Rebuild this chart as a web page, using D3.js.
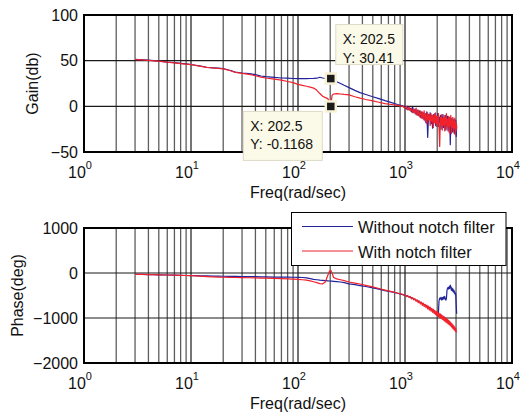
<!DOCTYPE html>
<html>
<head>
<meta charset="utf-8">
<script src="https://cdn.jsdelivr.net/npm/d3@7"></script>
<style>
  html, body { margin: 0; padding: 0; background: #fff; }
  svg { display: block; font-family: "Liberation Sans", Arial, sans-serif; }
</style>
</head>
<body>
<svg id="chart" width="521" height="413"></svg>
<script>
// Frequency grid (rad/sec), shared by every series
const freq = [
  3, 3.5, 4, 4.5, 5, 6, 7, 8, 9, 10, 11, 12, 14, 16, 18, 20, 23, 26, 30, 35,
  40, 45, 50, 60, 70, 80, 90, 100, 110, 120, 130, 140, 150, 160, 170, 180, 190, 197, 202.5, 208,
  215, 230, 250, 270, 300, 340, 380, 430, 500, 570, 650, 750, 850, 950,
  1000, 1030, 1060, 1090, 1120, 1150, 1180, 1210, 1240, 1270, 1300, 1330, 1360, 1390, 1420, 1450,
  1480, 1510, 1540, 1570, 1600, 1630, 1660, 1690, 1720, 1750, 1780, 1810, 1840, 1870, 1900, 1930,
  1960, 1990, 2020, 2050, 2080, 2110, 2140, 2170, 2200, 2230, 2260, 2290, 2320, 2350, 2380, 2410,
  2440, 2470, 2500, 2530, 2560, 2590, 2620, 2650, 2680, 2710, 2740, 2770, 2800, 2830, 2860, 2890,
  2920, 2950, 2980, 3010, 3040
];

// Gain (dB)
const gainWithout = [
  51.5, 51, 50.5, 50, 49.6, 48.5, 47.8, 47, 46.4, 45.8, 45, 44.2, 42.8, 42.2, 41.8, 41.3, 39.5, 37.5, 36.5, 35.8,
  34.8, 33.2, 32.5, 31.6, 31, 30.8, 30.5, 30.4, 30.3, 30.4, 30.5, 30.6, 30.8, 31.8, 31, 30.5, 30.6, 30.5, 30.41, 30,
  29, 27, 25, 23, 20.5, 17.5, 15, 13, 10.5, 8.5, 6.2, 4, 2, 0.5,
  -1, -3, 0, -4, -2, -6, -1, -7, -3, -9, -4, -10, -5, -12, -6, -13,
  -7, -15, -8, -18, -6, -34, -9, -14, -7, -19, -10, -24, -9, -17, -8, -21,
  -11, -16, -8, -22, -12, -18, -10, -25, -12, -19, -9, -23, -13, -20, -10, -26,
  -14, -21, -11, -27, -15, -22, -12, -42, -16, -24, -13, -28, -17, -23, -14, -30,
  -18, -26, -15, -33, -22
];
const gainWith = [
  51.2, 50.8, 50.3, 49.8, 49.4, 48.3, 47.6, 46.8, 46.2, 45.6, 44.8, 44, 42.6, 42, 41.6, 41, 39.2, 37.2, 36, 35,
  33.5, 32, 31, 29.8, 28.6, 27.2, 26, 24, 23, 22, 21, 20, 17.5, 14, 11, 9.5, 8.5, 4, -0.1168, 12,
  13.5, 14, 13.5, 13, 12.5, 10.5, 9, 7.5, 6, 4.5, 3, 2, 1, 0,
  -2, 0, -4, -1, -5, -2, -7, -3, -8, -2, -10, -4, -11, -5, -13, -6,
  -14, -5, -16, -8, -19, -7, -15, -9, -21, -8, -17, -10, -23, -9, -18, -7,
  -22, -11, -19, -8, -24, -44, -12, -20, -9, -26, -13, -21, -10, -27, -12, -20,
  -8, -25, -14, -22, -11, -29, -13, -21, -10, -30, -15, -23, -12, -28, -16, -24,
  -13, -31, -17, -27, -20
];

// Phase (deg)
const phaseWithout = [
  -30, -32, -35, -38, -40, -45, -48, -52, -55, -58, -60, -62, -65, -68, -70, -72, -74, -76, -78, -80,
  -82, -85, -88, -90, -92, -93, -94, -96, -100, -110, -125, -140, -150, -160, -165, -170, -175, -178, -180, -182,
  -185, -190, -200, -215, -240, -260, -280, -300, -330, -360, -390, -420, -450, -480,
  -498, -505, -515, -528, -540, -553, -565, -578, -590, -602, -612, -625, -638, -650, -662, -675,
  -690, -702, -712, -722, -735, -748, -758, -770, -782, -795, -808, -820, -835, -848, -860, -880,
  -900, -930, -950, -900, -620, -560, -580, -540, -600, -545, -590, -530, -570, -520, -585, -600,
  -560, -380, -340, -320, -360, -300, -340, -270, -300, -380, -330, -400, -350, -420, -380, -450,
  -420, -480, -460, -700, -906
];
const phaseWith = [
  -30, -32, -35, -38, -40, -45, -48, -52, -55, -58, -62, -68, -80, -88, -92, -95, -98, -100, -102, -105,
  -108, -112, -115, -120, -125, -130, -135, -140, -150, -160, -175, -195, -215, -235, -240, -200, -50, 40, 60, 0,
  -100, -130, -150, -170, -200, -225, -245, -275, -310, -345, -380, -415, -445, -475,
  -490, -525, -500, -545, -520, -575, -545, -600, -570, -630, -595, -660, -620, -690, -645, -720,
  -670, -745, -695, -770, -715, -800, -735, -825, -760, -850, -785, -875, -805, -900, -830, -925,
  -850, -950, -870, -970, -890, -990, -910, -1010, -930, -1030, -950, -1050, -970, -1070, -990, -1090,
  -1010, -1110, -1030, -1130, -1050, -1150, -1075, -1170, -1100, -1195, -1125, -1220, -1150, -1245, -1175, -1265,
  -1200, -1290, -1230, -1310, -1290
];

const seriesNames = ["Without notch filter", "With notch filter"];
const seriesColors = ["#23239a", "#f0222c"];
const gainTicks = [-50, 0, 50, 100];
const phaseTicks = [-2000, -1000, 0, 1000];
const decades = [0, 1, 2, 3, 4];
const tipFreq = 202.5;
const tipGains = [30.41, -0.1168];

const svg = d3.select("#chart");
const left = 84, right = 512;
const x = d3.scaleLog().domain([1, 1e4]).range([left, right]);
const yGain = d3.scaleLinear().domain([-50, 100]).range([152, 15]);
const yPhase = d3.scaleLinear().domain([-2000, 1000]).range([363, 228]);

function panel(y, ticks, ylabel, ylabelX, xlabelY, series) {
  const [y0, y1] = y.range();
  const g = svg.append("g");
  g.append("rect").attr("x", left).attr("y", y1).attr("width", right - left).attr("height", y0 - y1).attr("fill", "#fff");

  // log grid: minor and decade lines
  g.append("g").selectAll("line").data(x.ticks()).join("line")
    .attr("x1", d => x(d)).attr("x2", d => x(d)).attr("y1", y1).attr("y2", y0)
    .attr("stroke", d => Number.isInteger(Math.log10(d)) ? "#2a2a2a" : "#5e5e5e")
    .attr("stroke-width", 1.3);
  g.append("g").selectAll("line").data(ticks).join("line")
    .attr("x1", left).attr("x2", right).attr("y1", d => y(d)).attr("y2", d => y(d))
    .attr("stroke", "#1a1a1a").attr("stroke-width", 1.1);

  const line = d3.line().x((d, i) => x(freq[i])).y(d => y(d));
  series.forEach((vals, k) => {
    g.append("path").datum(vals).attr("d", line)
      .attr("fill", "none").attr("stroke", seriesColors[k]).attr("stroke-width", 1.2)
      .attr("stroke-linejoin", "round");
  });

  // frame
  g.append("rect").attr("x", left).attr("y", y1).attr("width", right - left).attr("height", y0 - y1)
    .attr("fill", "none").attr("stroke", "#000").attr("stroke-width", 2);

  // y tick labels
  const ya = d3.axisLeft(y).tickValues(ticks).tickSize(0).tickPadding(6).tickFormat(d3.format("d"));
  const yg = g.append("g").attr("transform", `translate(${left},0)`).call(ya);
  yg.select(".domain").remove();
  yg.selectAll("text").attr("font-size", 16).attr("fill", "#111").attr("font-family", "Liberation Sans, Arial, sans-serif");

  // x tick labels as powers of ten
  const xl = g.append("g").selectAll("text").data(decades).join("text")
    .attr("x", d => x(Math.pow(10, d)) - 4).attr("y", y0 + 26)
    .attr("text-anchor", "middle").attr("font-size", 16).attr("fill", "#111");
  xl.append("tspan").text("10");
  xl.append("tspan").attr("dy", -9).attr("font-size", 11).text(d => d);

  g.append("text").attr("x", (left + right) / 2).attr("y", xlabelY)
    .attr("text-anchor", "middle").attr("font-size", 16).attr("fill", "#111").text("Freq(rad/sec)");
  g.append("text").attr("transform", `translate(${ylabelX},${(y0 + y1) / 2}) rotate(-90)`)
    .attr("text-anchor", "middle").attr("font-size", 16).attr("fill", "#111").text(ylabel);
}

panel(yGain, gainTicks, "Gain(db)", 38, 198, [gainWithout, gainWith]);
panel(yPhase, phaseTicks, "Phase(deg)", 23, 409, [phaseWithout, phaseWith]);

// data tips
const tips = [
  { v: tipGains[0], dx: 5, dy: -54, w: 67, h: 40 },
  { v: tipGains[1], dx: -87.5, dy: 5, w: 79, h: 49 }
];
tips.forEach(t => {
  const mx = x(tipFreq), my = yGain(t.v);
  const bx = mx + t.dx, by = my + t.dy;
  const tg = svg.append("g");
  tg.append("rect").attr("x", bx).attr("y", by).attr("width", t.w).attr("height", t.h)
    .attr("fill", "#fbf9e7").attr("stroke", "#dedbc6").attr("stroke-width", 1);
  const tx = tg.append("text").attr("font-size", 14).attr("fill", "#111");
  tx.append("tspan").attr("x", bx + 7).attr("y", by + 19.5).text("X: " + tipFreq);
  tx.append("tspan").attr("x", bx + 7).attr("y", by + 38).text("Y: " + t.v);
});
tips.forEach(t => {
  const mx = x(tipFreq), my = yGain(t.v);
  svg.append("rect").attr("x", mx - 5).attr("y", my - 5).attr("width", 10).attr("height", 10)
    .attr("fill", "#1a1a1a").attr("stroke", "#f7f1d6").attr("stroke-width", 2.5);
});

// legend
const lg = svg.append("g");
lg.append("rect").attr("x", 291.5).attr("y", 212.5).attr("width", 214.5).attr("height", 53)
  .attr("fill", "#fff").attr("stroke", "#000").attr("stroke-width", 1);
seriesNames.forEach((name, i) => {
  const yy = 226.5 + i * 24.5;
  lg.append("line").attr("x1", 302).attr("x2", 353).attr("y1", yy).attr("y2", yy)
    .attr("stroke", seriesColors[i]).attr("stroke-width", 1.2);
  lg.append("text").attr("x", 358).attr("y", yy + 6.5).attr("font-size", 16.5).attr("fill", "#111").text(name);
});
</script>
</body>
</html>
